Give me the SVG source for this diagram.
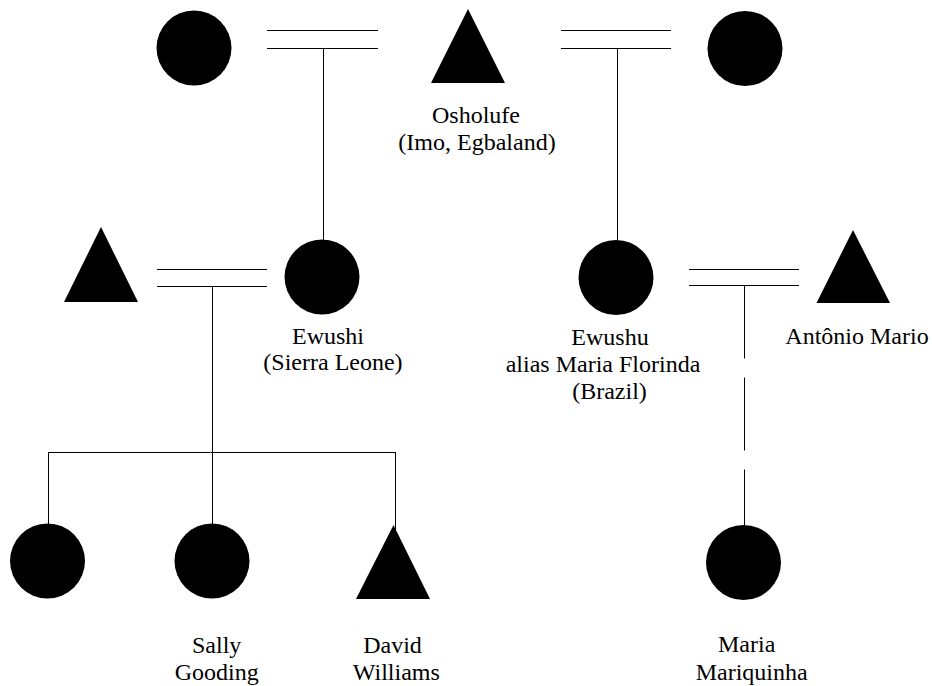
<svg xmlns="http://www.w3.org/2000/svg" width="932" height="686" viewBox="0 0 932 686">
<style>
.shape{fill:#000;stroke:none}
.lbl{font-family:"Liberation Serif","Times New Roman",serif;font-size:24px;fill:#000;text-anchor:middle}
.ln{stroke:#000;stroke-width:1;fill:none}
.dash{stroke-dasharray:73 19}
</style>
<rect width="932" height="686" fill="#fff"/>
<g id="connectors">
<line class="ln" x1="267" y1="30.5" x2="378" y2="30.5"/>
<line class="ln" x1="267" y1="48.5" x2="378" y2="48.5"/>
<line class="ln" x1="323.5" y1="48.5" x2="323.5" y2="240"/>
<line class="ln" x1="561" y1="30.5" x2="671" y2="30.5"/>
<line class="ln" x1="561" y1="48.5" x2="671" y2="48.5"/>
<line class="ln" x1="617.5" y1="48.5" x2="617.5" y2="240"/>
<line class="ln" x1="157" y1="269.5" x2="267" y2="269.5"/>
<line class="ln" x1="157" y1="286.5" x2="267" y2="286.5"/>
<line class="ln" x1="212.5" y1="286.5" x2="212.5" y2="524"/>
<line class="ln" x1="48" y1="452.5" x2="396" y2="452.5"/>
<line class="ln" x1="48.5" y1="452.5" x2="48.5" y2="524"/>
<line class="ln" x1="395.5" y1="452.5" x2="395.5" y2="530"/>
<line class="ln" x1="689" y1="269.5" x2="799" y2="269.5"/>
<line class="ln" x1="689" y1="285.5" x2="799" y2="285.5"/>
<line class="ln dash" x1="744.5" y1="285.5" x2="744.5" y2="525"/>
</g>
<g id="node-mother1"><circle class="shape" cx="194" cy="48" r="37.5"/></g>
<g id="node-osholufe">
<polygon class="shape" points="468,9 431,83 505,83"/>
<text class="lbl" x="476" y="123">Osholufe</text>
<text class="lbl" x="477" y="150">(Imo, Egbaland)</text>
</g>
<g id="node-mother2"><circle class="shape" cx="745" cy="48.5" r="37.5"/></g>
<g id="node-husband"><polygon class="shape" points="101,227 64,302 138,302"/></g>
<g id="node-ewushi">
<circle class="shape" cx="322" cy="277" r="37.5"/>
<text class="lbl" x="328" y="344">Ewushi</text>
<text class="lbl" x="333" y="370">(Sierra Leone)</text>
</g>
<g id="node-ewushu">
<circle class="shape" cx="616" cy="277.5" r="37.5"/>
<text class="lbl" x="610" y="345">Ewushu</text>
<text class="lbl" x="603" y="372">alias Maria Florinda</text>
<text class="lbl" x="609.5" y="399">(Brazil)</text>
</g>
<g id="node-antonio">
<polygon class="shape" points="853,230 816.5,303 890,303"/>
<text class="lbl" x="857" y="344">Antônio Mario</text>
</g>
<g id="node-child1"><circle class="shape" cx="47.5" cy="561" r="37.5"/></g>
<g id="node-sally">
<circle class="shape" cx="212" cy="561" r="37.5"/>
<text class="lbl" x="216.7" y="653">Sally</text>
<text class="lbl" x="216.7" y="680">Gooding</text>
</g>
<g id="node-david">
<polygon class="shape" points="393.5,525 356,599 430,599"/>
<text class="lbl" x="392.5" y="653">David</text>
<text class="lbl" x="396.3" y="680">Williams</text>
</g>
<g id="node-maria">
<circle class="shape" cx="743.5" cy="562.5" r="37.5"/>
<text class="lbl" x="746.7" y="652">Maria</text>
<text class="lbl" x="751.7" y="680">Mariquinha</text>
</g>
</svg>
